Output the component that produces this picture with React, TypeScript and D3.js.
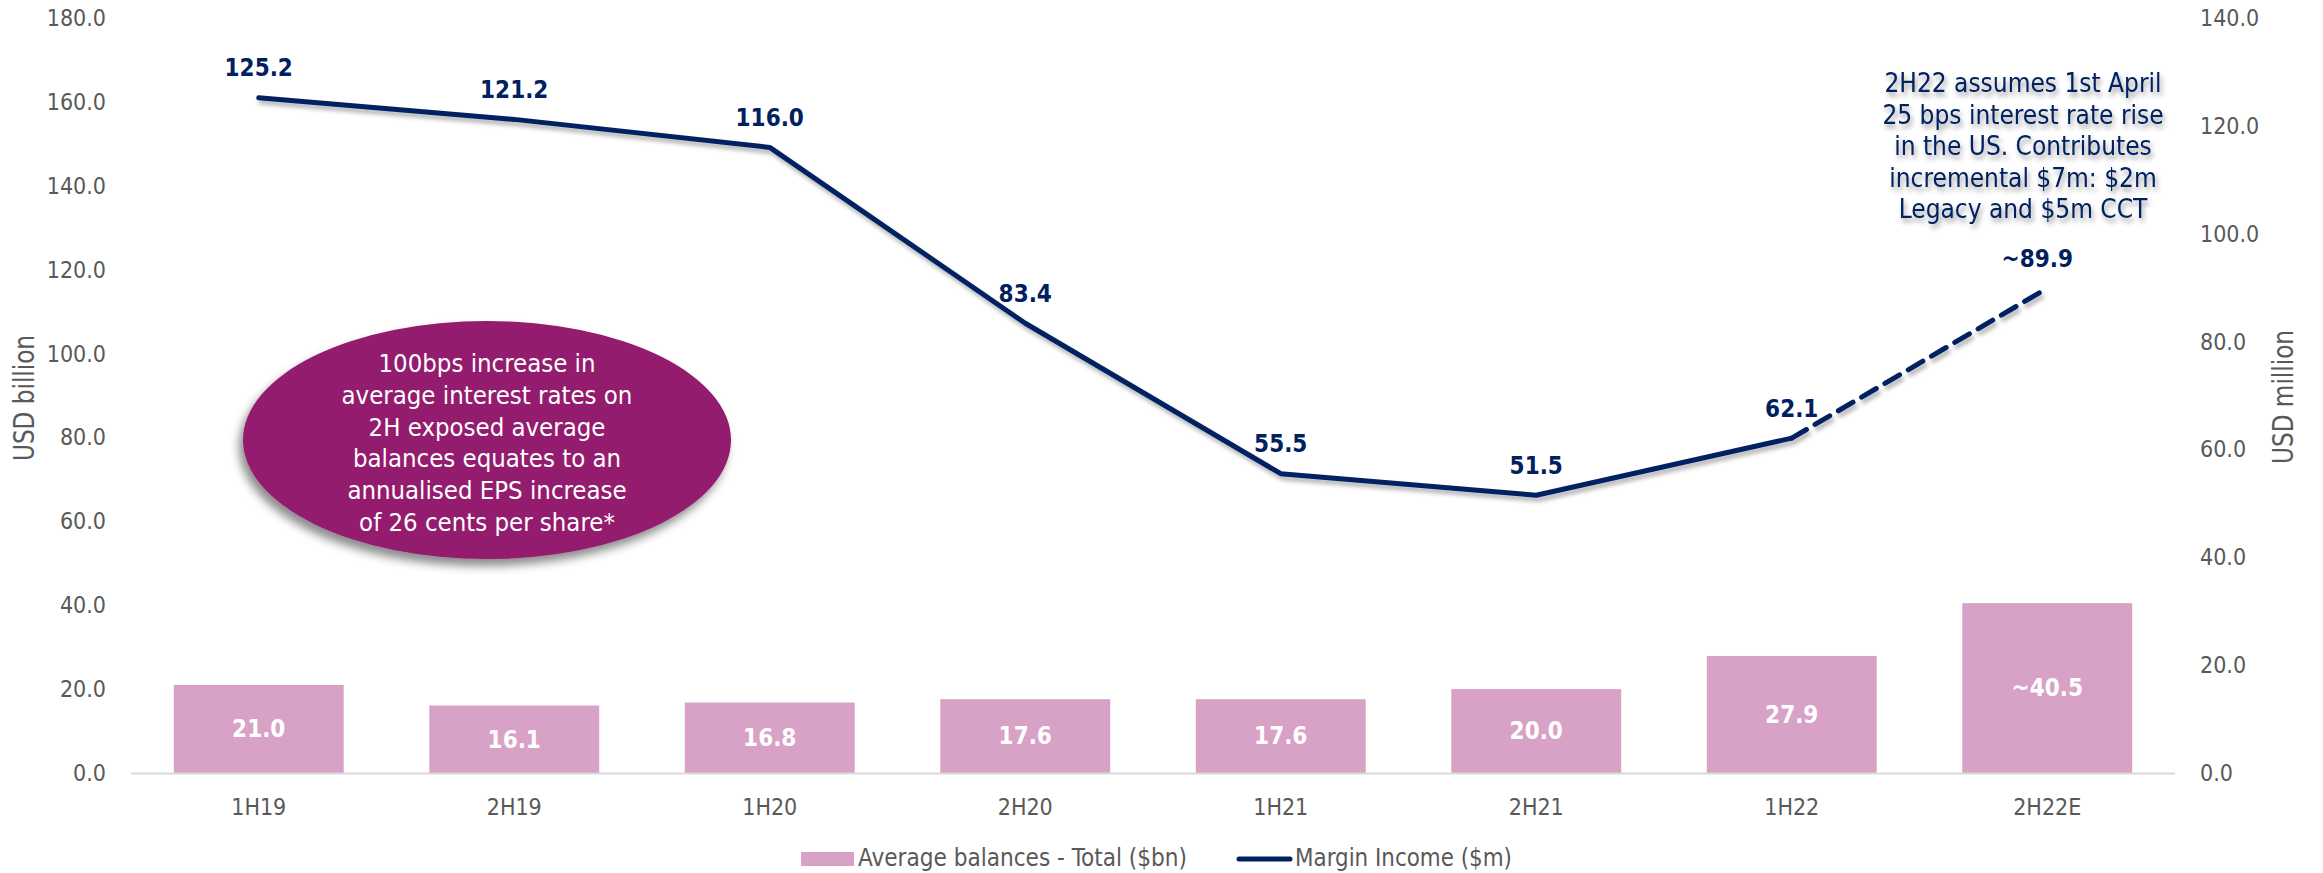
import React, { useEffect, useRef } from "react";
import * as d3 from "d3";

const categories = ["1H19", "2H19", "1H20", "2H20", "1H21", "2H21", "1H22", "2H22E"];
const balances = [21.0, 16.1, 16.8, 17.6, 17.6, 20.0, 27.9, 40.5];
const balanceLabels = ["21.0", "16.1", "16.8", "17.6", "17.6", "20.0", "27.9", "~40.5"];
const marginIncome = [125.2, 121.2, 116.0, 83.4, 55.5, 51.5, 62.1, 89.9];
const marginLabels = ["125.2", "121.2", "116.0", "83.4", "55.5", "51.5", "62.1", "~89.9"];
const leftTicks = [0, 20, 40, 60, 80, 100, 120, 140, 160, 180];
const rightTicks = [0, 20, 40, 60, 80, 100, 120, 140];

const ellipseLines = [
  "100bps increase in",
  "average interest rates on",
  "2H exposed average",
  "balances equates to an",
  "annualised EPS increase",
  "of 26 cents per share*",
];
const noteLines = [
  "2H22 assumes 1st April",
  "25 bps interest rate rise",
  "in the US. Contributes",
  "incremental $7m: $2m",
  "Legacy and $5m CCT",
];

const W = 2323;
const H = 873;
const NAVY = "#002060";
const PINK = "#d8a2c6";
const PLUM = "#941a6e";
const GREY = "#595959";
const TAHOMA = "'DejaVu Sans Condensed', 'DejaVu Sans', sans-serif";
const NARROW = "'Liberation Sans Narrow', 'DejaVu Sans Condensed', sans-serif";

export default function App() {
  const ref = useRef<SVGSVGElement>(null);

  useEffect(() => {
    const svg = d3.select(ref.current);
    svg.selectAll("*").remove();

    const defs = svg.append("defs");
    defs.append("filter").attr("id", "lineShadow")
      .attr("x", "-5%").attr("y", "-5%").attr("width", "110%").attr("height", "120%")
      .append("feDropShadow")
      .attr("dx", 2).attr("dy", 4).attr("stdDeviation", 2)
      .attr("flood-color", "#000").attr("flood-opacity", 0.3);
    defs.append("filter").attr("id", "ellShadow")
      .attr("x", "-10%").attr("y", "-10%").attr("width", "120%").attr("height", "130%")
      .append("feDropShadow")
      .attr("dx", -4).attr("dy", 7).attr("stdDeviation", 5)
      .attr("flood-color", "#000").attr("flood-opacity", 0.45);
    defs.append("filter").attr("id", "textShadow")
      .attr("x", "-10%").attr("y", "-20%").attr("width", "120%").attr("height", "160%")
      .append("feDropShadow")
      .attr("dx", 2).attr("dy", 4).attr("stdDeviation", 2.5)
      .attr("flood-color", "#000").attr("flood-opacity", 0.4);

    const x = d3.scaleBand<string>()
      .domain(categories)
      .range([131, 2175])
      .paddingInner(0.335)
      .paddingOuter(0.1675);
    const yL = d3.scaleLinear().domain([0, 180]).range([773, 18]);
    const yR = d3.scaleLinear().domain([0, 140]).range([773, 18]);
    const cx = (c: string) => (x(c) as number) + x.bandwidth() / 2;

    // left axis labels
    svg.append("g").selectAll("text").data(leftTicks).enter().append("text")
      .attr("x", 106).attr("y", d => yL(d))
      .attr("dy", "0.35em").attr("text-anchor", "end")
      .style("font-family", TAHOMA).style("font-size", "23px").style("fill", GREY)
      .text(d => d3.format(".1f")(d));

    // right axis labels
    svg.append("g").selectAll("text").data(rightTicks).enter().append("text")
      .attr("x", 2200).attr("y", d => yR(d))
      .attr("dy", "0.35em").attr("text-anchor", "start")
      .style("font-family", TAHOMA).style("font-size", "23px").style("fill", GREY)
      .text(d => d3.format(".1f")(d));

    // axis titles (narrow face squeezed to the reference width)
    svg.append("text")
      .attr("transform", `translate(34,398) rotate(-90)`)
      .attr("x", -63)
      .attr("textLength", 126).attr("lengthAdjust", "spacingAndGlyphs")
      .style("font-family", NARROW).style("font-size", "29px").style("fill", GREY)
      .text("USD billion");
    svg.append("text")
      .attr("transform", `translate(2293,397) rotate(-90)`)
      .attr("x", -67)
      .attr("textLength", 134).attr("lengthAdjust", "spacingAndGlyphs")
      .style("font-family", NARROW).style("font-size", "29px").style("fill", GREY)
      .text("USD million");

    // bars
    svg.append("g").selectAll("rect").data(balances).enter().append("rect")
      .attr("x", (d, i) => x(categories[i]) as number)
      .attr("y", d => yL(d))
      .attr("width", x.bandwidth())
      .attr("height", d => yL(0) - yL(d))
      .style("fill", PINK);

    // x axis line
    svg.append("line")
      .attr("x1", 131).attr("x2", 2175).attr("y1", 773.5).attr("y2", 773.5)
      .style("stroke", "#d9d9d9").style("stroke-width", 2);

    // category labels
    svg.append("g").selectAll("text").data(categories).enter().append("text")
      .attr("x", d => cx(d)).attr("y", 807)
      .attr("dy", "0.35em").attr("text-anchor", "middle")
      .style("font-family", TAHOMA).style("font-size", "23px").style("fill", GREY)
      .text(d => d);

    // bar labels
    svg.append("g").selectAll("text").data(balances).enter().append("text")
      .attr("x", (d, i) => cx(categories[i]))
      .attr("y", d => (yL(d) + yL(0)) / 2)
      .attr("dy", "0.35em").attr("text-anchor", "middle")
      .style("font-family", TAHOMA).style("font-weight", "bold")
      .style("font-size", "24px").style("fill", "#fff")
      .text((d, i) => balanceLabels[i]);

    // ellipse callout
    svg.append("ellipse")
      .attr("cx", 487).attr("cy", 440).attr("rx", 244).attr("ry", 119)
      .style("fill", PLUM).attr("filter", "url(#ellShadow)");
    svg.append("g").selectAll("text").data(ellipseLines).enter().append("text")
      .attr("x", 487).attr("y", (d, i) => 363 + i * 31.8)
      .attr("dy", "0.35em").attr("text-anchor", "middle")
      .style("font-family", TAHOMA).style("font-size", "25.5px").style("fill", "#fff")
      .text(d => d);

    // margin income line
    const pts: [number, number][] = marginIncome.map((v, i) => [cx(categories[i]), yR(v)]);
    const line = d3.line<[number, number]>();
    const lineG = svg.append("g").attr("filter", "url(#lineShadow)");
    lineG.append("path")
      .attr("d", line(pts.slice(0, 7)))
      .style("fill", "none").style("stroke", NAVY).style("stroke-width", 5)
      .style("stroke-linejoin", "round").style("stroke-linecap", "round");
    lineG.append("path")
      .attr("d", line(pts.slice(6)))
      .style("fill", "none").style("stroke", NAVY).style("stroke-width", 5)
      .style("stroke-dasharray", "17,10").style("stroke-linecap", "round");

    // line labels
    svg.append("g").selectAll("text").data(marginIncome).enter().append("text")
      .attr("x", (d, i) => cx(categories[i]) - (i === 7 ? 10 : 0))
      .attr("y", d => yR(d) - 30)
      .attr("dy", "0.35em").attr("text-anchor", "middle")
      .style("font-family", TAHOMA).style("font-weight", "bold")
      .style("font-size", "24px").style("fill", NAVY)
      .text((d, i) => marginLabels[i]);

    // note
    svg.append("g").attr("filter", "url(#textShadow)")
      .selectAll("text").data(noteLines).enter().append("text")
      .attr("x", 2023).attr("y", (d, i) => 83 + i * 31.5)
      .attr("dy", "0.35em").attr("text-anchor", "middle")
      .style("font-family", TAHOMA).style("font-size", "26px").style("fill", NAVY)
      .text(d => d);

    // legend
    const lg = svg.append("g");
    lg.append("rect").attr("x", 801).attr("y", 852).attr("width", 53).attr("height", 14)
      .style("fill", PINK);
    lg.append("text").attr("x", 858).attr("y", 866)
      .attr("textLength", 329).attr("lengthAdjust", "spacingAndGlyphs")
      .style("font-family", NARROW).style("font-size", "25px").style("fill", GREY)
      .text("Average balances - Total ($bn)");
    lg.append("line").attr("x1", 1239).attr("x2", 1290).attr("y1", 859).attr("y2", 859)
      .style("stroke", NAVY).style("stroke-width", 5).style("stroke-linecap", "round");
    lg.append("text").attr("x", 1295).attr("y", 866)
      .attr("textLength", 217).attr("lengthAdjust", "spacingAndGlyphs")
      .style("font-family", NARROW).style("font-size", "25px").style("fill", GREY)
      .text("Margin Income ($m)");
  }, []);

  return (
    <svg
      ref={ref}
      width={W}
      height={H}
      style={{ position: "absolute", left: 0, top: 0, display: "block", background: "#fff" }}
    />
  );
}
